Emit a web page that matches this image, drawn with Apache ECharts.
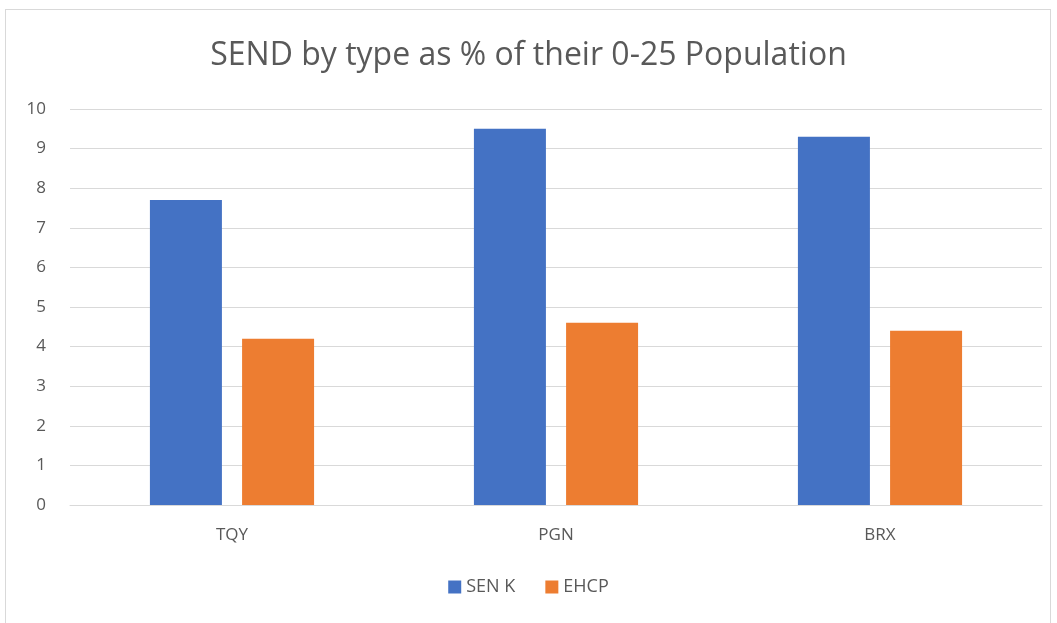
<!DOCTYPE html>
<html>
<head>
<meta charset="utf-8">
<script src="https://cdn.jsdelivr.net/npm/echarts@6/dist/echarts.min.js"></script>
<style>
  html, body { margin: 0; padding: 0; background: #fff; }
  #frame { position: absolute; left: 5px; top: 9px; width: 1046px; height: 620px; border: 1px solid #d9d9d9; box-sizing: border-box; }
  #chart { position: absolute; left: 0; top: 0; width: 1057px; height: 623px; }
</style>
</head>
<body>
<div id="frame"></div>
<div id="chart"></div>
<script>
var categories = ['TQY', 'PGN', 'BRX'];
var senK = [7.7, 9.5, 9.3];
var ehcp = [4.2, 4.6, 4.4];
var yTicks = { min: 0, max: 10, interval: 1 };

var myChart = echarts.init(document.getElementById('chart'));
var font = '"Open Sans", sans-serif';
var option = {
    title: {
        text: 'SEND by type as % of their 0-25 Population',
        left: 'center',
        top: 35,
        textStyle: { fontFamily: font, fontSize: 32, fontWeight: 'normal', color: '#595959' }
    },
    legend: {
        data: ['SEN K', 'EHCP'],
        bottom: 22,
        left: 'center',
        itemWidth: 13,
        itemHeight: 13,
        itemGap: 30,
        icon: 'rect',
        textStyle: { fontFamily: font, fontSize: 18, color: '#595959' }
    },
    grid: { left: 70, right: 15, top: 109, bottom: 118 },
    xAxis: {
        type: 'category',
        data: categories,
        axisLine: { lineStyle: { color: '#d9d9d9' } },
        axisTick: { show: false },
        axisLabel: { fontFamily: font, fontSize: 17, color: '#595959', margin: 22 }
    },
    yAxis: {
        type: 'value',
        min: yTicks.min,
        max: yTicks.max,
        interval: yTicks.interval,
        axisLine: { show: false },
        axisTick: { show: false },
        splitLine: { lineStyle: { color: '#d9d9d9', width: 1 } },
        axisLabel: { fontFamily: font, fontSize: 17, color: '#595959', margin: 24 }
    },
    series: [
        { name: 'SEN K', type: 'bar', data: senK, barWidth: 72, barGap: '28%', itemStyle: { color: '#4472c4' } },
        { name: 'EHCP', type: 'bar', data: ehcp, barWidth: 72, itemStyle: { color: '#ed7d31' } }
    ]
};
myChart.setOption(option);
</script>
</body>
</html>
